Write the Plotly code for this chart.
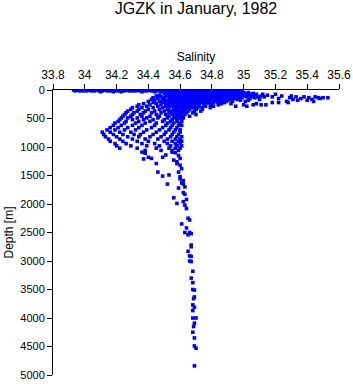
import plotly.graph_objects as go

# ---- Data (salinity vs depth) ----
# Upper ocean: observation depth levels and salinities observed at each level
level_depths = [0, 15, 30, 45, 60, 75, 90, 105, 120, 135, 150, 165, 180, 200, 220, 240, 260,
                285, 310, 340, 370, 400, 430, 460, 490, 520, 550, 580, 620, 660, 700, 740,
                780, 820, 860, 900, 940, 980, 1020, 1060]
level_salinity = [
    [33.93, 33.95, 33.96, 33.98, 34.00, 34.02, 34.03, 34.05, 34.07, 34.08, 34.10, 34.12, 34.13, 34.15,
     34.17, 34.18, 34.20, 34.22, 34.24, 34.26, 34.27, 34.29, 34.31, 34.33, 34.34, 34.36, 34.38, 34.40,
     34.41, 34.43, 34.45, 34.47, 34.52, 34.54, 34.56, 34.58, 34.60, 34.62, 34.63, 34.65, 34.67, 34.69,
     34.71, 34.72, 34.74, 34.76, 34.78, 34.80, 34.82, 34.84, 34.86, 34.88, 34.90, 34.92, 34.95],
    [33.94, 33.97, 33.99, 34.01, 34.04, 34.06, 34.09, 34.11, 34.14, 34.16, 34.19, 34.21, 34.25, 34.28,
     34.30, 34.32, 34.35, 34.37, 34.39, 34.42, 34.44, 34.46, 34.49, 34.53, 34.55, 34.57, 34.59, 34.61,
     34.64, 34.66, 34.68, 34.70, 34.73, 34.75, 34.77, 34.79, 34.81, 34.83, 34.85, 34.87, 34.89, 34.91,
     34.94, 34.97],
    [34.10, 34.18, 34.23, 34.36, 34.44, 34.48, 34.51, 34.53, 34.55, 34.57, 34.59, 34.61, 34.63, 34.65,
     34.67, 34.69, 34.71, 34.73, 34.75, 34.77, 34.79, 34.81, 34.83, 34.85, 34.87, 34.89, 34.91, 34.93,
     34.96, 34.99],
    [34.56, 34.58, 34.60, 34.62, 34.64, 34.66, 34.68, 34.70, 34.72, 34.74, 34.76, 34.78, 34.80, 34.82,
     34.84, 34.86, 34.88, 34.90, 34.92, 34.94, 34.97, 35.00, 35.03],
    [34.50, 34.53, 34.55, 34.57, 34.59, 34.61, 34.63, 34.65, 34.67, 34.69, 34.71, 34.73, 34.75, 34.77,
     34.79, 34.81, 34.83, 34.85, 34.87, 34.89, 34.91, 34.93, 34.95, 34.98, 35.02, 35.06],
    [34.52, 34.54, 34.56, 34.58, 34.60, 34.62, 34.64, 34.66, 34.68, 34.70, 34.72, 34.74, 34.76, 34.78,
     34.80, 34.82, 34.84, 34.86, 34.88, 34.90, 34.92, 34.94, 34.96, 34.99, 35.04, 35.08, 35.12, 35.20],
    [34.47, 34.53, 34.55, 34.57, 34.59, 34.61, 34.63, 34.65, 34.67, 34.69, 34.71, 34.73, 34.75, 34.77,
     34.79, 34.81, 34.83, 34.85, 34.87, 34.89, 34.91, 34.93, 34.95, 34.97, 35.01, 35.06, 35.15],
    [34.45, 34.51, 34.54, 34.56, 34.58, 34.60, 34.62, 34.64, 34.66, 34.68, 34.70, 34.72, 34.74, 34.76,
     34.78, 34.80, 34.82, 34.84, 34.86, 34.88, 34.90, 34.92, 34.94, 34.97, 35.00, 35.03, 35.08, 35.11,
     35.24, 35.30],
    [34.48, 34.55, 34.57, 34.59, 34.61, 34.63, 34.65, 34.67, 34.69, 34.71, 34.73, 34.75, 34.77, 34.79,
     34.81, 34.83, 34.85, 34.87, 34.89, 34.91, 34.93, 34.95, 34.98, 35.02, 35.05, 35.09, 35.13, 35.18,
     35.33, 35.38, 35.45],
    [34.43, 34.50, 34.54, 34.56, 34.58, 34.60, 34.62, 34.64, 34.66, 34.68, 34.70, 34.72, 34.74, 34.76,
     34.78, 34.80, 34.82, 34.84, 34.86, 34.88, 34.90, 34.92, 34.95, 34.99, 35.07, 35.29, 35.41, 35.47,
     35.50, 35.53],
    [34.46, 34.53, 34.57, 34.59, 34.61, 34.63, 34.65, 34.67, 34.69, 34.71, 34.73, 34.75, 34.77, 34.79,
     34.81, 34.83, 34.85, 34.87, 34.89, 34.91, 34.94, 34.97, 35.04, 35.22, 35.36, 35.48],
    [34.42, 34.49, 34.55, 34.58, 34.60, 34.62, 34.64, 34.66, 34.68, 34.70, 34.72, 34.74, 34.76, 34.78,
     34.80, 34.82, 34.84, 34.86, 34.88, 34.92, 34.96, 35.10, 35.31, 35.43],
    [34.44, 34.51, 34.54, 34.57, 34.59, 34.61, 34.63, 34.65, 34.67, 34.69, 34.71, 34.73, 34.75, 34.77,
     34.79, 34.81, 34.83, 34.87, 34.90, 34.98, 35.03, 35.34, 35.40],
    [34.40, 34.47, 34.52, 34.56, 34.58, 34.60, 34.62, 34.64, 34.66, 34.68, 34.70, 34.72, 34.74, 34.76,
     34.79, 34.82, 34.85, 34.89, 34.93, 35.01, 35.27, 35.44],
    [34.43, 34.49, 34.54, 34.57, 34.59, 34.61, 34.63, 34.65, 34.67, 34.69, 34.71, 34.73, 34.75, 34.78,
     34.81, 34.84, 34.88, 35.18, 35.22, 35.28],
    [34.37, 34.45, 34.51, 34.55, 34.58, 34.60, 34.62, 34.64, 34.66, 34.68, 34.70, 34.72, 34.76, 34.80,
     34.86, 34.92, 35.08],
    [34.34, 34.41, 34.48, 34.53, 34.56, 34.59, 34.61, 34.63, 34.65, 34.67, 34.69, 34.72, 34.75, 34.79,
     34.84, 35.00, 35.06, 35.11, 35.14],
    [34.33, 34.39, 34.46, 34.51, 34.55, 34.58, 34.60, 34.62, 34.64, 34.66, 34.69, 34.72, 34.76, 34.81,
     34.95, 35.02],
    [34.30, 34.36, 34.43, 34.49, 34.53, 34.57, 34.59, 34.61, 34.63, 34.65, 34.68, 34.71, 34.74, 34.79],
    [34.29, 34.34, 34.40, 34.47, 34.52, 34.56, 34.58, 34.61, 34.63, 34.66, 34.70, 34.74],
    [34.27, 34.33, 34.38, 34.44, 34.50, 34.54, 34.57, 34.60, 34.62, 34.65, 34.69, 34.73],
    [34.26, 34.31, 34.37, 34.42, 34.48, 34.53, 34.56, 34.59, 34.61, 34.64, 34.68],
    [34.25, 34.30, 34.35, 34.45, 34.51, 34.55, 34.58, 34.60, 34.63, 34.70],
    [34.24, 34.29, 34.36, 34.41, 34.47, 34.53, 34.57, 34.60, 34.62, 34.66],
    [34.23, 34.27, 34.33, 34.39, 34.46, 34.52, 34.56, 34.59, 34.62],
    [34.22, 34.30, 34.37, 34.43, 34.50, 34.55, 34.58, 34.61],
    [34.21, 34.26, 34.34, 34.41, 34.49, 34.54, 34.58, 34.61],
    [34.19, 34.25, 34.32, 34.38, 34.45, 34.52, 34.56, 34.60],
    [34.18, 34.23, 34.30, 34.36, 34.44, 34.51, 34.55, 34.59, 34.61],
    [34.16, 34.21, 34.27, 34.34, 34.42, 34.49, 34.54, 34.58],
    [34.14, 34.19, 34.25, 34.32, 34.39, 34.47, 34.53, 34.57, 34.60],
    [34.11, 34.16, 34.22, 34.29, 34.37, 34.45, 34.51, 34.56, 34.60],
    [34.12, 34.18, 34.24, 34.31, 34.35, 34.43, 34.50, 34.55, 34.59],
    [34.13, 34.20, 34.27, 34.34, 34.41, 34.48, 34.54, 34.58, 34.61],
    [34.15, 34.22, 34.30, 34.38, 34.46, 34.52, 34.57, 34.60],
    [34.16, 34.24, 34.33, 34.40, 34.50, 34.55, 34.59, 34.61],
    [34.19, 34.26, 34.36, 34.44, 34.52, 34.57, 34.60],
    [34.20, 34.29, 34.39, 34.47, 34.54, 34.58, 34.61],
    [34.22, 34.33, 34.45, 34.53, 34.57, 34.60],
    [34.38, 34.48, 34.55, 34.59],
]

# Deep water: individual observations (salinity, depth)
deep_salinity = [34.36, 34.38, 34.40, 34.42, 34.37, 34.45, 34.49, 34.51, 34.55, 34.56, 34.58, 34.59,
                 34.46, 34.49, 34.53, 34.60, 34.61, 34.52, 34.59, 34.62, 34.56, 34.58, 34.62, 34.63,
                 34.65, 34.61, 34.64, 34.57, 34.59, 34.60, 34.58, 34.60, 34.61, 34.60, 34.62, 34.63,
                 34.63, 34.64, 34.62, 34.64, 34.66, 34.63, 34.66, 34.65, 34.67, 34.67, 34.67, 34.65,
                 34.66, 34.67, 34.66, 34.67, 34.68, 34.67, 34.68, 34.68, 34.69, 34.69, 34.685, 34.68,
                 34.69, 34.68, 34.68, 34.70, 34.69, 34.685, 34.68, 34.69, 34.69, 34.70, 34.69]
deep_depth = [1090, 1110, 1180, 1200, 1210, 1290, 1180, 1140, 1090, 1230, 1290, 1440,
              1440, 1510, 1490, 1520, 1630, 1650, 1720, 1800, 1890, 1990, 1960, 2020,
              2250, 2350, 2420, 1100, 1150, 1200, 1260, 1320, 1380, 1560, 1590, 1700,
              1830, 1920, 1650, 2080, 2280, 2500, 2500, 2540, 2520, 2720, 2750, 2830,
              2910, 2920, 3000, 3010, 3180, 3300, 3380, 3500, 3510, 3630, 3660, 3770,
              3810, 3870, 4000, 4000, 4090, 4150, 4250, 4350, 4490, 4530, 4840]

x_tick_vals = [33.8, 34.0, 34.2, 34.4, 34.6, 34.8, 35.0, 35.2, 35.4, 35.6]
x_tick_text = ["33.8", "34", "34.2", "34.4", "34.6", "34.8", "35", "35.2", "35.4", "35.6"]
y_tick_vals = [0, 500, 1000, 1500, 2000, 2500, 3000, 3500, 4000, 4500, 5000]

# ---- Build the point table ----
sal_all, depth_all = [], []
for d, row in zip(level_depths, level_salinity):
    for s in row:
        sal_all.append(s)
        depth_all.append(d)
sal_all += deep_salinity
depth_all += deep_depth

FONT = "Liberation Sans, Arial, sans-serif"

fig = go.Figure(go.Scatter(
    x=sal_all, y=depth_all, mode="markers",
    marker=dict(symbol="square", size=3.6, color="#0000ff", line=dict(width=0)),
    hoverinfo="x+y",
))

fig.update_layout(
    width=353, height=384,
    margin=dict(l=53, r=14, t=90, b=9),
    paper_bgcolor="white", plot_bgcolor="white",
    font=dict(family=FONT, size=12, color="black"),
    showlegend=False,
    title=dict(text="JGZK in January, 1982", x=0.5, xref="paper",
               y=1 - 8.5 / 384, yref="container", yanchor="middle",
               font=dict(family=FONT, size=16, color="black")),
    xaxis=dict(side="top", range=[33.8, 35.6], tickvals=x_tick_vals, ticktext=x_tick_text,
               ticks="outside", ticklen=5, tickwidth=1, tickcolor="black",
               showline=True, linecolor="black", linewidth=1,
               showgrid=False, zeroline=False, automargin=False,
               tickfont=dict(family=FONT, size=12),
               title=dict(text="Salinity", font=dict(family=FONT, size=12), standoff=4)),
    yaxis=dict(range=[5000, 0], tickvals=y_tick_vals,
               ticks="outside", ticklen=5, tickwidth=1, tickcolor="black",
               showline=True, linecolor="black", linewidth=1,
               showgrid=False, zeroline=False, automargin=False,
               tickfont=dict(family=FONT, size=11),
               title=dict(text="Depth [m]", font=dict(family=FONT, size=12), standoff=4)),
)

fig.write_html("out.html")
